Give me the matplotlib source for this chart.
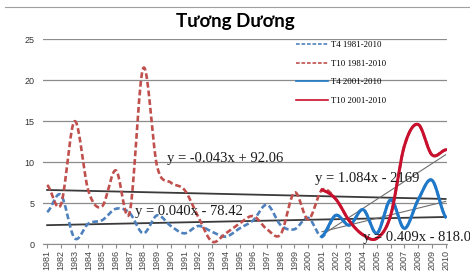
import matplotlib.pyplot as plt
import numpy as np
from matplotlib.lines import Line2D

# 数据
years = np.arange(1981, 2011)
t4_all = [3.9, 6.0, 0.7, 2.5, 2.9, 4.3, 3.8, 1.3, 3.5, 2.2,
          1.3, 2.2, 1.5, 0.9, 1.9, 2.9, 4.8, 2.3, 1.8, 3.2,
          0.9, 3.5, 2.3, 4.2, 1.3, 5.4, 1.9, 5.4, 7.8, 3.3]
t10_all = [7.2, 4.8, 15.0, 6.5, 4.6, 9.0, 3.8, 21.5, 9.5, 7.5,
           6.6, 3.3, 0.3, 1.3, 2.5, 3.4, 1.8, 1.2, 6.3, 3.0,
           6.6, 5.5, 2.8, 1.1, 0.7, 3.5, 12.0, 14.6, 10.9, 11.5]
series_labels = ['T4 1981-2010', 'T10 1981-2010', 'T4 2001-2010', 'T10 2001-2010']

# 趋势线：(起始年, 结束年, 起点值, 终点值, 公式文字)
trend_t10_all = (1981, 2010, 6.6, 5.5, 'y = -0.043x + 92.06')
trend_t4_all = (1981, 2010, 2.3, 3.3, 'y = 0.040x - 78.42')
trend_t10_new = (2001, 2010, 1.1, 10.9, 'y = 1.084x - 2169')
trend_t4_new = (2001, 2010, 1.5, 5.2, 'y = 0.409x - 818.0')

# 公式标注位置（数据坐标）
label_pos = [(1989.7, 10.5), (1987.4, 4.0), (2000.5, 8.0), (2004.0, 0.85)]


def smooth(x, y, n=20):
    # Excel 风格的平滑线（Catmull-Rom）
    x = np.asarray(x, float)
    y = np.asarray(y, float)
    xs, ys = [], []
    for i in range(len(x) - 1):
        y0 = y[i - 1] if i > 0 else y[i]
        y3 = y[i + 2] if i + 2 < len(y) else y[i + 1]
        m1 = (y[i + 1] - y0) / 2
        m2 = (y3 - y[i]) / 2
        t = np.linspace(0, 1, n, endpoint=False)
        h00 = 2 * t**3 - 3 * t**2 + 1
        h10 = t**3 - 2 * t**2 + t
        h01 = -2 * t**3 + 3 * t**2
        h11 = t**3 - t**2
        xs.append(x[i] + t * (x[i + 1] - x[i]))
        ys.append(h00 * y[i] + h10 * m1 + h01 * y[i + 1] + h11 * m2)
    xs.append([x[-1]])
    ys.append([y[-1]])
    return np.concatenate(xs), np.concatenate(ys)


fig = plt.figure(figsize=(4.7, 2.79), dpi=100)
ax = fig.add_axes([43 / 470, 1 - 244 / 279, (447 - 43) / 470, (244 - 39.3) / 279])

# 网格线
for v in range(0, 30, 5):
    ax.axhline(v, color='#8c8c8c', lw=0.9, zorder=0)

# 趋势线
for tr, c, w in [(trend_t10_all, '#3a3a3a', 1.3), (trend_t4_all, '#3a3a3a', 1.3),
                 (trend_t10_new, '#6e6e6e', 0.8), (trend_t4_new, '#6e6e6e', 0.8)]:
    ax.plot([tr[0], tr[1]], [tr[2], tr[3]], color=c, lw=w, zorder=1)

dash = (0, (2.2, 1.1))
xs, ys = smooth(years, t4_all)
ax.plot(xs, ys, color='#4f81bd', lw=1.9, ls=dash, label=series_labels[0], zorder=2)
xs, ys = smooth(years, t10_all)
ax.plot(xs, ys, color='#c0504d', lw=1.9, ls=dash, label=series_labels[1], zorder=3)
xs, ys = smooth(years[20:], t4_all[20:])
ax.plot(xs, ys, color='#1f78c8', lw=2.2, label=series_labels[2], zorder=4)
xs, ys = smooth(years[20:], t10_all[20:])
ax.plot(xs, ys, color='#c8102e', lw=2.2, label=series_labels[3], zorder=5)

# 公式文字
for tr, (px, py) in zip([trend_t10_all, trend_t4_all, trend_t10_new, trend_t4_new], label_pos):
    ax.text(px, py, tr[4], fontsize=10.5, family='Liberation Serif', color='#1a1a1a',
            ha='left', va='center', zorder=6, clip_on=False)

ax.set_xlim(1980.7, 2010.1)
ax.set_ylim(0, 25)
ax.set_xticks(years)
ax.set_xticklabels([str(y) for y in years], rotation=90, fontsize=6.5,
                   family='Liberation Sans', color='#444444')
ax.set_yticks(range(0, 30, 5))
ax.set_yticklabels([str(v) for v in range(0, 30, 5)], fontsize=6.5,
                   family='Liberation Sans', color='#333333')
ax.tick_params(axis='x', length=3, color='#8c8c8c', pad=1.5)
ax.tick_params(axis='y', length=0, pad=6)
for s in ['top', 'right', 'left']:
    ax.spines[s].set_visible(False)
ax.spines['bottom'].set_color('#8c8c8c')
ax.patch.set_alpha(0)

# 图例（线条比图中细）
leg = ax.legend(loc='upper left', bbox_to_anchor=(296 / 470, 1 - 41 / 279), bbox_transform=fig.transFigure,
                frameon=False, prop={'family': 'Liberation Serif', 'size': 6.3},
                handlelength=3.6, handletextpad=0.35, labelspacing=1.2, borderaxespad=0, borderpad=0)
for h in leg.get_lines():
    h.set_linewidth(1.2)

# 标题
fig.text(0.5, 1 - 21 / 279, 'Tương Dương', ha='center', va='center', fontsize=13.5,
         fontweight='bold', family=['Lato', 'DejaVu Sans'])

# 顶部边框线
fig.add_artist(Line2D([5 / 470, 1], [1 - 7 / 279, 1 - 7 / 279], color='#a0a0a0', lw=0.8))

plt.savefig('out.png', dpi=100)
